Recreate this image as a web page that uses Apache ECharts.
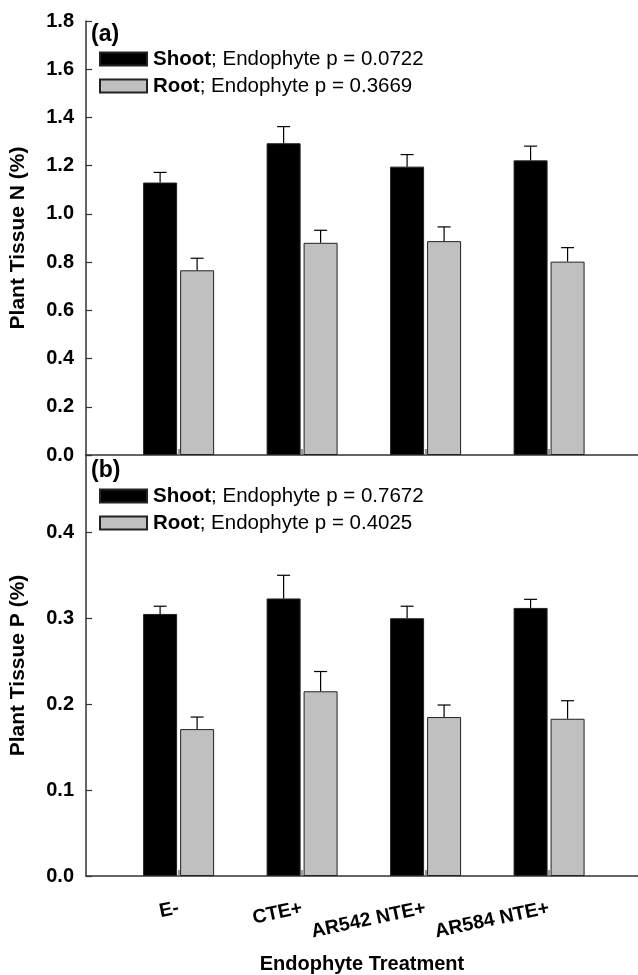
<!DOCTYPE html>
<html>
<head>
<meta charset="utf-8">
<script src="https://cdn.jsdelivr.net/npm/echarts@6/dist/echarts.min.js"></script>
<style>
html,body{margin:0;padding:0;background:#fff;}
#chart{width:638px;height:975px;}
</style>
</head>
<body>
<div id="chart"></div>
<script>
// ---- data ----
const categories = ['E-', 'CTE+', 'AR542 NTE+', 'AR584 NTE+'];
const seriesNames = ['Shoot', 'Root'];

// Panel (a): Plant tissue N (%)
const nShoot = [1.13, 1.293, 1.196, 1.222];
const nShootSE = [0.042, 0.069, 0.050, 0.059];
const nRoot = [0.766, 0.880, 0.887, 0.802];
const nRootSE = [0.050, 0.052, 0.059, 0.058];
const pValuesA = ['0.0722', '0.3669'];
const yTicksA = [0, 0.2, 0.4, 0.6, 0.8, 1.0, 1.2, 1.4, 1.6, 1.8];

// Panel (b): Plant tissue P (%)
const pShoot = [0.305, 0.323, 0.300, 0.312];
const pShootSE = [0.009, 0.027, 0.014, 0.010];
const pRoot = [0.171, 0.215, 0.185, 0.183];
const pRootSE = [0.014, 0.023, 0.014, 0.021];
const pValuesB = ['0.7672', '0.4025'];
const yTicksB = [0, 0.1, 0.2, 0.3, 0.4];

// ---- styling ----
const FONT = '"Liberation Sans", Arial, Helvetica, sans-serif';
const AXIS_COLOR = '#333';
const SHOOT_COLOR = '#000000';
const ROOT_COLOR = '#c0c0c0';
const BAR_W = 34;
const BAR_GAP_PX = 3;
const OFFSET = (BAR_W + BAR_GAP_PX) / 2;
const catPositions = categories.map((c, i) => i + 1);

const chart = echarts.init(document.getElementById('chart'), null, {renderer: 'canvas'});

function barData(vals) {
  return vals.map((v, i) => [catPositions[i], v]);
}
function errData(vals, se) {
  return vals.map((v, i) => [catPositions[i], v, v + se[i]]);
}
function errorSeries(vals, se, dx, gi) {
  return {
    type: 'custom',
    xAxisIndex: gi, yAxisIndex: gi,
    z: 5,
    silent: true,
    data: errData(vals, se),
    encode: {x: 0, y: [1, 2]},
    renderItem: function (params, api) {
      const x = api.value(0);
      const p0 = api.coord([x, api.value(1)]);
      const p1 = api.coord([x, api.value(2)]);
      const cx = p0[0] + dx;
      const half = 6.5;
      const st = {stroke: '#000', lineWidth: 1.2};
      return {
        type: 'group',
        children: [
          {type: 'line', shape: {x1: cx, y1: p0[1], x2: cx, y2: p1[1]}, style: st},
          {type: 'line', shape: {x1: cx - half, y1: p1[1], x2: cx + half, y2: p1[1]}, style: st}
        ]
      };
    }
  };
}
function barSeries(name, vals, color, gi) {
  return {
    name: name,
    type: 'bar',
    xAxisIndex: gi, yAxisIndex: gi,
    data: barData(vals),
    barWidth: BAR_W,
    barGap: (BAR_GAP_PX / BAR_W * 100).toFixed(1) + '%',
    itemStyle: {color: color, borderColor: '#222', borderWidth: 1},
    emphasis: {disabled: true}
  };
}

const xAxisCommon = {
  type: 'value',
  min: 0.25,
  max: 4.72,
  splitLine: {show: false},
  axisLine: {show: true, onZero: false, lineStyle: {color: AXIS_COLOR, width: 1.5}},
  axisTick: {show: true, inside: true, length: 6, customValues: catPositions, lineStyle: {color: '#777', width: 1.5}}
};
function yAxis(gi, max, interval, ticks, name) {
  return {
    type: 'value',
    gridIndex: gi,
    min: 0,
    max: max,
    interval: interval,
    name: name,
    nameLocation: 'middle',
    nameGap: 57,
    nameTextStyle: {fontFamily: FONT, fontWeight: 'bold', fontSize: 21, color: '#000'},
    splitLine: {show: false},
    axisLine: {show: true, lineStyle: {color: AXIS_COLOR, width: 1.5}},
    axisTick: {show: true, inside: true, length: 6, lineStyle: {color: AXIS_COLOR, width: 1.2}},
    axisLabel: {
      fontFamily: FONT, fontWeight: 'bold', fontSize: 20, color: '#000', margin: 12,
      showMaxLabel: true,
      formatter: function (v) {
        const hit = ticks.some(t => Math.abs(t - v) < 1e-6);
        return hit ? v.toFixed(1) : '';
      }
    }
  };
}
function legend(top, pv) {
  return {
    orient: 'vertical',
    left: 94,
    top: top,
    itemWidth: 47,
    itemHeight: 13,
    itemGap: 6,
    icon: 'rect',
    selectedMode: false,
    data: seriesNames,
    formatter: function (name) {
      const idx = seriesNames.indexOf(name);
      return '{b|' + name + '}; Endophyte p = ' + pv[idx];
    },
    textStyle: {
      fontFamily: FONT, fontSize: 20.5, color: '#000', lineHeight: 20,
      padding: [0, 0, 0, 1],
      rich: {b: {fontFamily: FONT, fontSize: 20.5, fontWeight: 'bold', color: '#000', lineHeight: 20}}
    }
  };
}

const option = {
  animation: false,
  backgroundColor: '#fff',
  grid: [
    {left: 83.5, right: 0, top: 21, height: 434},
    {left: 83.5, right: 0, top: 455, height: 423}
  ],
  xAxis: [
    Object.assign({}, xAxisCommon, {gridIndex: 0, axisLabel: {show: false}}),
    Object.assign({}, xAxisCommon, {
      gridIndex: 1,
      name: 'Endophyte Treatment',
      nameLocation: 'middle',
      nameGap: 78,
      nameTextStyle: {fontFamily: FONT, fontWeight: 'bold', fontSize: 20, color: '#000'},
      axisLabel: {
        show: true,
        customValues: catPositions,
        rotate: 12,
        margin: 32,
        fontFamily: FONT, fontWeight: 'bold', fontSize: 19.5, color: '#000',
        formatter: function (v) { return categories[Math.round(v) - 1] || ''; }
      }
    })
  ],
  yAxis: [
    yAxis(0, 1.8, 0.2, yTicksA, 'Plant Tissue N (%)'),
    yAxis(1, 0.49, 0.1, yTicksB, 'Plant Tissue P (%)')
  ],
  legend: [legend(43.5, pValuesA), legend(480.5, pValuesB)],
  graphic: [
    {type: 'text', left: 91, top: 23, style: {text: '(a)', fontFamily: FONT, fontWeight: 'bold', fontSize: 23, fill: '#000'}},
    {type: 'text', left: 91, top: 459, style: {text: '(b)', fontFamily: FONT, fontWeight: 'bold', fontSize: 23, fill: '#000'}}
  ],
  series: [
    barSeries(seriesNames[0], nShoot, SHOOT_COLOR, 0),
    barSeries(seriesNames[1], nRoot, ROOT_COLOR, 0),
    errorSeries(nShoot, nShootSE, -OFFSET, 0),
    errorSeries(nRoot, nRootSE, OFFSET, 0),
    barSeries(seriesNames[0], pShoot, SHOOT_COLOR, 1),
    barSeries(seriesNames[1], pRoot, ROOT_COLOR, 1),
    errorSeries(pShoot, pShootSE, -OFFSET, 1),
    errorSeries(pRoot, pRootSE, OFFSET, 1)
  ]
};
chart.setOption(option);
</script>
</body>
</html>
